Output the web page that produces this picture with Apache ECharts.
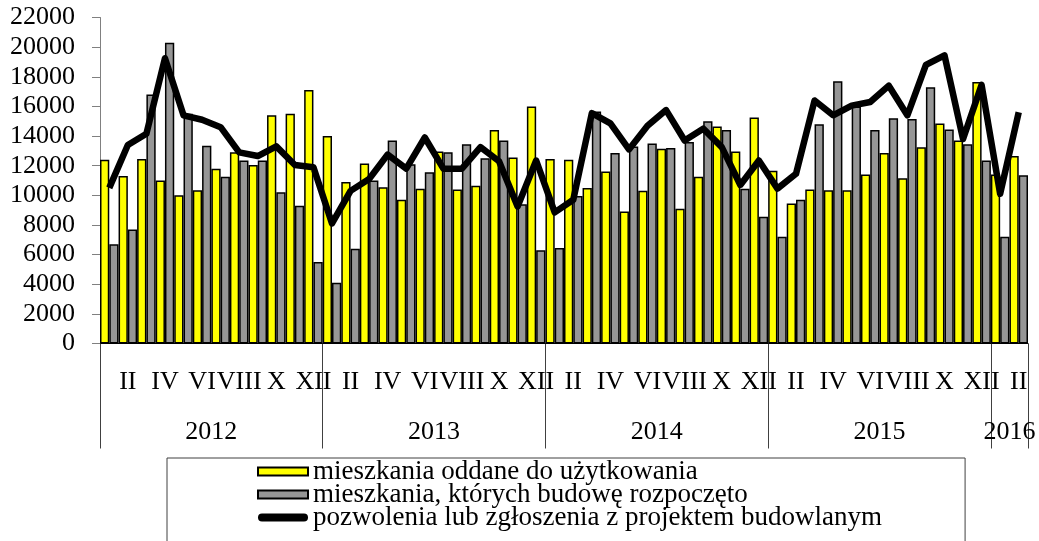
<!DOCTYPE html>
<html>
<head>
<meta charset="utf-8">
<script src="https://cdn.jsdelivr.net/npm/echarts@6/dist/echarts.min.js"></script>
<style>
  html, body { margin: 0; padding: 0; background: #fff; }
  #chart { width: 1039px; height: 541px; }
</style>
</head>
<body>
<div id="chart"></div>
<script>
// lata i miesiace (2016 tylko I-II)
var years = ['2012', '2013', '2014', '2015', '2016'];
var monthsPerYear = [12, 12, 12, 12, 2];
var monthNames = ['I', 'II', 'III', 'IV', 'V', 'VI', 'VII', 'VIII', 'IX', 'X', 'XI', 'XII'];

var seriesNames = [
  'mieszkania oddane do użytkowania',
  'mieszkania, których budowę rozpoczęto',
  'pozwolenia lub zgłoszenia z projektem budowlanym'
];

var oddane = [
  12400, 11300, 12450, 11000, 10000, 10350, 11800, 12900, 12050, 15400, 15500, 17100,
  14000, 10900, 12150, 10550, 9700, 10450, 12950, 10400, 10650, 14400, 12550, 16000,
  12450, 12400, 10500, 11600, 8900, 10300, 13150, 9100, 11250, 14650, 12950, 15250,
  11650, 9450, 10400, 10350, 10350, 11400, 12850, 11150, 13250, 14850, 13700, 17650,
  11400, 12650
];
var rozpoczete = [
  6700, 7700, 16800, 20300, 15500, 13350, 11250, 12350, 12350, 10200, 9300, 5500,
  4100, 6400, 11000, 13700, 12100, 11550, 12900, 13450, 12500, 13700, 9400, 6300,
  6450, 9950, 15650, 12850, 13300, 13500, 13200, 13600, 15000, 14400, 10450, 8550,
  7200, 9700, 14800, 17700, 16000, 14400, 15200, 15150, 17300, 14450, 13450, 12350,
  7200, 11350
];
var pozwolenia = [
  10500, 13400, 14150, 19250, 15400, 15100, 14600, 12900, 12650, 13300, 12050, 11900,
  8100, 10300, 11100, 12750, 11800, 13900, 11800, 11800, 13250, 12300, 9250, 12350,
  8850, 9700, 15550, 14850, 13100, 14700, 15750, 13700, 14500, 13250, 10700, 12350,
  10450, 11450, 16400, 15400, 16050, 16300, 17400, 15400, 18800, 19450, 13800, 17450,
  10100, 15600
];

// kategorie miesieczne i granice lat
var categories = [];
var yearBounds = [0];
var yearCenters = [];
years.forEach(function (y, k) {
  for (var m = 0; m < monthsPerYear[k]; m++) categories.push(monthNames[m]);
  var start = yearBounds[yearBounds.length - 1];
  yearBounds.push(start + monthsPerYear[k]);
  yearCenters.push(start + monthsPerYear[k] / 2);
});

var font = 'Liberation Serif';
var chart = echarts.init(document.getElementById('chart'));
chart.setOption({
  animation: false,
  textStyle: { fontFamily: font, color: '#000' },
  grid: { left: 100, right: 11, top: 17.5, bottom: 197.5 },
  legend: {
    orient: 'vertical',
    left: 167,
    top: 458,
    height: 110,
    padding: [0, 83, 17, 90],
    itemWidth: 50,
    itemHeight: 8,
    itemGap: -4,
    itemsTextGap: 6,
    borderColor: '#404040',
    borderWidth: 1,
    textStyle: { fontFamily: font, fontSize: 27, color: '#000' },
    data: [
      { name: seriesNames[0], icon: 'rect' },
      { name: seriesNames[1], icon: 'rect' },
      { name: seriesNames[2], icon: 'path://M4,0 L46,0 A4,4 0 0 1 46,8 L4,8 A4,4 0 0 1 4,0 Z' }
    ]
  },
  xAxis: [
    {
      type: 'category',
      data: categories,
      axisLine: { show: true, lineStyle: { color: '#000', width: 1 } },
      axisTick: { show: false },
      axisLabel: {
        interval: function (i) { return i % 2 === 1; },
        margin: 26,
        fontFamily: font,
        fontSize: 26,
        color: '#000'
      }
    },
    {
      type: 'value',
      position: 'bottom',
      min: 0,
      max: yearBounds[yearBounds.length - 1],
      axisLine: { show: false },
      splitLine: { show: false },
      axisTick: {
        show: true,
        customValues: yearBounds,
        length: 105,
        lineStyle: { color: '#404040', width: 1 }
      },
      axisLabel: {
        customValues: yearCenters,
        margin: 76,
        fontFamily: font,
        fontSize: 26,
        color: '#000',
        formatter: function (v) { return years[yearCenters.indexOf(v)] || ''; }
      }
    }
  ],
  yAxis: {
    type: 'value',
    min: 0,
    max: 22000,
    interval: 2000,
    axisLine: { show: true, lineStyle: { color: '#808080', width: 1 } },
    axisTick: { show: true, length: 8, lineStyle: { color: '#808080' } },
    splitLine: { show: false },
    axisLabel: {
      margin: 25, fontFamily: font, fontSize: 26, color: '#000',
      formatter: function (v) { return String(v); }
    }
  },
  series: [
    {
      name: seriesNames[0],
      type: 'bar',
      data: oddane,
      barGap: '0%',
      barCategoryGap: '0%',
      itemStyle: { color: '#ffff00', borderColor: '#000', borderWidth: 1.5 }
    },
    {
      name: seriesNames[1],
      type: 'bar',
      data: rozpoczete,
      barGap: '0%',
      barCategoryGap: '0%',
      itemStyle: { color: '#969696', borderColor: '#000', borderWidth: 1.5 }
    },
    {
      name: seriesNames[2],
      type: 'line',
      data: pozwolenia,
      showSymbol: false,
      symbol: 'none',
      lineStyle: { color: '#000', width: 6.5, join: 'round' },
      itemStyle: { color: '#000' },
      z: 5
    }
  ]
});
</script>
</body>
</html>
